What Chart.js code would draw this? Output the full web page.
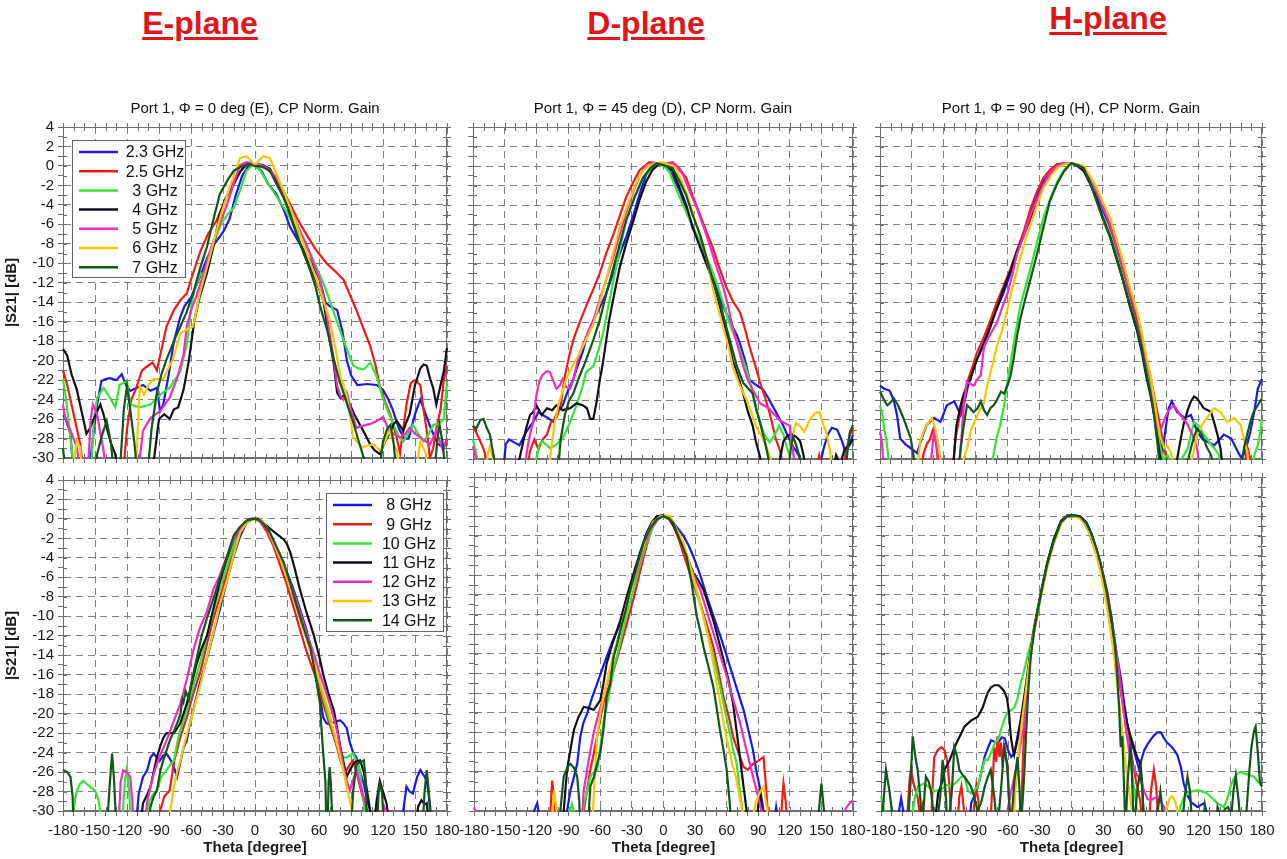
<!DOCTYPE html>
<html>
<head>
<meta charset="utf-8">
<script src="https://cdn.jsdelivr.net/npm/chart.js@4.4.0/dist/chart.umd.min.js"></script>
<style>
  body { margin: 0; width: 1287px; height: 859px; overflow: hidden; background: #fff; position: relative;
         font-family: "Liberation Sans", Arial, sans-serif; }
  .plane { position: absolute; color: #e0161b; font-weight: bold; font-size: 32px; white-space: nowrap;
           text-decoration: underline; text-decoration-thickness: 3px; text-underline-offset: 3px;
           transform: translateX(-50%); }
  canvas { position: absolute; }
</style>
</head>
<body>

<div class="plane" style="left:200px; top:5px">E-plane</div>
<div class="plane" style="left:646px; top:5px">D-plane</div>
<div class="plane" style="left:1108px; top:0px">H-plane</div>

<canvas id="p1" width="467" height="374" style="left:0px; top:97px"></canvas>
<canvas id="p2" width="420" height="374" style="left:453px; top:97px"></canvas>
<canvas id="p3" width="422" height="374" style="left:860px; top:97px"></canvas>
<canvas id="p4" width="467" height="392" style="left:0px; top:467px"></canvas>
<canvas id="p5" width="420" height="392" style="left:453px; top:467px"></canvas>
<canvas id="p6" width="422" height="392" style="left:860px; top:467px"></canvas>

<script>
// ---- labels ----
const freqLow = ["2.3 GHz", "2.5 GHz", "3 GHz", "4 GHz", "5 GHz", "6 GHz", "7 GHz"];
const freqHigh = ["8 GHz", "9 GHz", "10 GHz", "11 GHz", "12 GHz", "13 GHz", "14 GHz"];
const thetaTickLabels = [-180, -150, -120, -90, -60, -30, 0, 30, 60, 90, 120, 150, 180];
const gainTickLabels = [4, 2, 0, -2, -4, -6, -8, -10, -12, -14, -16, -18, -20, -22, -24, -26, -28, -30];
const panelTitles = [
    "Port 1, \u03A6 = 0 deg (E), CP Norm. Gain",
    "Port 1, \u03A6 = 45 deg (D), CP Norm. Gain",
    "Port 1, \u03A6 = 90 deg (H), CP Norm. Gain"
];

// ---- E-plane, 2.3 .. 7 GHz  [theta, dB] ----
const e23 = [[-180,-25.6],[-178,-25.8],[-173,-27.5],[-170,-32],[-156,-32],[-153,-28.9],[-148,-24.5],[-144,-22.1],[-140,-21.9],[-136,-21.8],[-130,-22],[-125,-21.4],[-121,-22.5],[-117,-23.1],[-111,-22.8],[-105,-22.5],[-98,-23.1],[-92,-22.8],[-89,-25.2],[-86,-24.5],[-81,-21.5],[-76,-18],[-70,-15.5],[-66,-14.4],[-60,-13.5],[-52,-11.5],[-45,-9.5],[-38,-8],[-30,-6.8],[-24,-5.5],[-18,-3],[-12,-1],[-6,0],[0,0],[6,-0.5],[12,-1.8],[20,-2.9],[27,-4.5],[33,-6.3],[42,-8],[52,-9.7],[61,-11.8],[66,-14],[70,-14.4],[77,-14.8],[82,-17],[86,-19.9],[90,-21.5],[96,-22.5],[105,-22.4],[114,-22.5],[120,-23],[125,-24],[129,-25],[135,-27],[140,-28],[144,-28],[150,-25.5],[155,-24],[160,-25.5],[165,-27],[171,-28.5],[177,-29],[180,-28]];
const e25 = [[-180,-21],[-176,-22.5],[-172,-24.5],[-168,-26.5],[-164,-28.5],[-160,-32],[-124,-32],[-120,-27],[-116,-24],[-112,-23],[-106,-21],[-100,-20.5],[-96,-20.2],[-92,-21],[-88,-19],[-83,-16.5],[-76,-14.8],[-70,-13.8],[-64,-13.1],[-58,-11],[-51,-8.7],[-44,-7],[-36,-5.6],[-28,-3.5],[-20,-1.6],[-12,-0.3],[-6,0.2],[0,0],[8,0],[17,-0.9],[25,-2.3],[33,-3.9],[40,-5.5],[48,-7],[57,-8.6],[67,-10],[75,-10.8],[83,-11.7],[90,-13.5],[95,-14.8],[102,-16.8],[108,-18.5],[113,-20.5],[117,-22.6],[122,-24.2],[127,-25.6],[133,-28],[136,-29.5],[139,-27],[142,-24.5],[146,-22.3],[150,-22],[155,-22.5],[158,-25],[161,-27.2],[164,-30],[167,-29],[170,-27],[174,-25],[177,-22],[180,-20.5]];
const e3 = [[-180,-21.9],[-177,-24],[-174,-27],[-171,-30],[-168,-32],[-154,-32],[-151,-26],[-148,-23.8],[-142,-22.8],[-136,-23.8],[-131,-24.8],[-127,-22.5],[-120,-22.1],[-117,-24.5],[-108,-24.8],[-98,-24.5],[-89,-23.5],[-80,-22.8],[-70,-21.1],[-64,-18.4],[-59,-13.8],[-56,-12.5],[-51,-11],[-48,-11.5],[-44,-9.5],[-39,-8],[-32,-6],[-26,-5],[-20,-4.3],[-14,-2.5],[-8,-0.5],[-3,0],[0,0],[5,-0.5],[11,-1.6],[17,-2.6],[23,-3.6],[30,-4.8],[36,-6],[44,-7.5],[52,-9],[58,-10.5],[64,-12],[69,-13.5],[74,-15.1],[80,-17],[86,-18.8],[92,-20.5],[97,-20.8],[102,-20.9],[108,-20.2],[114,-21.6],[120,-23.9],[125,-25.3],[130,-26.6],[135,-27.8],[139,-28.3],[144,-27.4],[148,-26.6],[153,-27.5],[158,-28.3],[163,-27.5],[167,-26.6],[172,-26.5],[177,-26],[180,-22.2]];
const e4 = [[-180,-18.8],[-176,-19.5],[-172,-21.4],[-167,-23],[-164,-24.5],[-161,-26],[-158,-27.5],[-155,-27],[-152,-26.2],[-148,-25.2],[-145,-24.5],[-142,-25.5],[-139,-26.9],[-135,-28.5],[-131,-29.6],[-128,-32],[-97,-32],[-94,-29.5],[-90,-26],[-85,-25.5],[-80,-26],[-76,-25],[-72,-24.8],[-67,-23],[-62,-20],[-57,-16],[-52,-13.5],[-45,-11],[-39,-8.3],[-33,-5],[-27,-3.2],[-20,-1.9],[-14,-0.6],[-8,0.2],[-3,0.2],[0,0],[7,0.1],[14,-0.3],[20,-1.5],[27,-3],[33,-5],[39,-7],[45,-8.7],[52,-10.4],[58,-12],[64,-13.8],[68,-16.5],[71,-18.5],[74,-20.5],[77,-23.3],[80,-23.8],[83,-23.6],[86,-24],[89,-24.5],[93,-25.5],[98,-26.5],[103,-27.5],[108,-28.6],[112,-29.2],[117,-29.6],[121,-28.5],[126,-27.5],[130,-26.5],[133,-26.2],[136,-26.7],[139,-27.2],[142,-26.3],[145,-25.5],[150,-22.5],[155,-20.8],[158,-20.4],[161,-20.5],[164,-21.8],[167,-22.8],[170,-24.5],[173,-23],[177,-21.1],[180,-18.7]];
const e5 = [[-180,-24.5],[-178,-25.8],[-173,-27.2],[-167,-28.9],[-163,-32],[-157,-32],[-154,-26],[-152,-24.5],[-148,-25.5],[-145,-27.5],[-142,-29.2],[-139,-32],[-110,-32],[-105,-27.2],[-98,-25.9],[-89,-25.2],[-80,-23.8],[-73,-21.8],[-67,-19.4],[-64,-16.5],[-59,-14.5],[-55,-13.4],[-48,-11],[-42,-8.7],[-34,-6.2],[-26,-3.9],[-20,-1.8],[-14,0.1],[-8,0.4],[-3,0.3],[0,0],[4,0.2],[8,0],[14,-0.4],[20,-1.2],[27,-2.8],[33,-4.3],[40,-6.2],[48,-8],[55,-10],[61,-11.8],[66,-14.5],[70,-17.2],[74,-20],[77,-22.6],[80,-23.6],[83,-24],[86,-23.3],[90,-25],[95,-26.9],[101,-26.7],[108,-26.5],[114,-26.2],[120,-25.8],[126,-27.2],[131,-27.6],[136,-27.9],[141,-27.5],[145,-26.9],[150,-27.5],[155,-27.9],[160,-28.3],[164,-28.6],[170,-27.2],[176,-29.2],[180,-28]];
const e6 = [[-172,-32],[-167,-28.3],[-164,-28.9],[-161,-32],[-112,-32],[-108,-22.6],[-104,-23.5],[-100,-22.5],[-95,-21.9],[-86,-21.9],[-80,-20.5],[-77,-19.9],[-70,-17.2],[-64,-16.8],[-58,-16.5],[-52,-13.2],[-45,-10.4],[-38,-7.5],[-32,-5],[-26,-3],[-20,-1],[-14,0.8],[-8,1],[-4,0.6],[0,0],[4,0.6],[8,1],[14,0.8],[20,-0.8],[27,-2.6],[34,-4.6],[42,-7],[50,-9.4],[58,-11.8],[64,-13.8],[70,-15.8],[75,-18.5],[80,-21.6],[86,-23.6],[89,-25.5],[92,-27.9],[97,-28.5],[101,-28.9],[106,-28.7],[111,-28.6],[117,-29.2],[121,-28.5],[126,-27.2],[130,-28.5],[133,-29.2],[136,-32],[150,-32],[155,-28.3],[160,-29.5],[163,-32]];
const e7 = [[-180,-29],[-177,-32],[-150,-32],[-148,-29.6],[-143,-27.5],[-139,-26.2],[-135,-28.5],[-132,-32],[-127,-32],[-123,-25],[-120,-22.6],[-117,-25],[-113,-28.5],[-110,-32],[-101,-32],[-97,-27],[-92,-23.3],[-88,-21.5],[-83,-19.9],[-76,-18],[-70,-16.5],[-64,-15],[-58,-13.1],[-52,-10.7],[-45,-8.3],[-39,-5.5],[-33,-2.9],[-26,-1.5],[-20,-0.5],[-12,0],[-6,0.2],[0,0],[7,-0.1],[14,-0.5],[20,-1.8],[27,-3.3],[33,-5],[39,-7],[45,-8.8],[52,-10.8],[57,-12.5],[61,-14.4],[68,-17],[74,-19.9],[79,-22],[83,-23.3],[88,-25],[92,-26.3],[97,-28.2],[102,-30],[106,-32],[116,-32],[120,-28.3],[124,-27],[127,-26.6],[130,-28.5],[133,-32],[168,-32],[171,-28],[173,-26.6],[176,-28.5],[179,-32]];

// ---- D-plane, 2.3 .. 7 GHz ----
const d23 = [[-180,-32],[-152,-32],[-149,-28.5],[-146,-28],[-141,-28.3],[-136,-28.6],[-130,-27.3],[-123,-26.2],[-118,-25.2],[-114,-25.5],[-109,-25.8],[-104,-26.2],[-100,-25.2],[-95,-24.5],[-90,-23],[-85,-21.8],[-80,-20.2],[-76,-19],[-71,-17],[-66,-15.8],[-60,-14.5],[-54,-13.1],[-48,-11.2],[-41,-9],[-34,-7],[-28,-5],[-22,-2.8],[-16,-0.9],[-10,0],[-6,0.3],[0,0.2],[3,0.1],[9,-1],[16,-2.6],[22,-4.4],[28,-6.3],[35,-8],[41,-9.7],[49,-12],[57,-14.4],[62,-15.5],[66,-16.5],[70,-17.3],[73,-18.2],[78,-20],[82,-21.9],[88,-22.4],[95,-22.9],[100,-23.8],[104,-24.6],[109,-25.6],[114,-26.6],[118,-27.6],[123,-28.7],[128,-29.5],[134,-31],[148,-31],[152,-29],[156,-27.5],[160,-26.8],[165,-27],[169,-28],[173,-29.3],[177,-28.5],[180,-27.5]];
const d25 = [[-180,-26.6],[-176,-27.5],[-171,-28.7],[-167,-30],[-164,-32],[-130,-32],[-126,-29.2],[-122,-28],[-118,-29],[-114,-28],[-110,-27.5],[-106,-26.2],[-101,-25.8],[-97,-24.5],[-93,-21.5],[-89,-19.5],[-85,-17.8],[-79,-16],[-73,-14.4],[-66,-12.6],[-60,-11],[-54,-9],[-47,-7],[-41,-5.1],[-35,-3.2],[-28,-1.6],[-22,-0.4],[-13,0.4],[-6,0.3],[0,0.2],[9,0.4],[15,-0.2],[22,-1.2],[28,-3],[35,-5],[41,-6.7],[47,-8.3],[53,-10.3],[60,-12.4],[66,-13.8],[73,-15],[78,-16.8],[82,-18.5],[87,-20.3],[92,-22.2],[97,-23.8],[101,-25.3],[107,-28],[111,-29.2],[114,-31],[145,-31],[148,-29.6],[151,-31],[170,-31],[174,-29],[177,-27.5],[180,-26.9]];
const d3 = [[-180,-28],[-176,-30],[-172,-32],[-123,-32],[-120,-30],[-117,-28.5],[-114,-28.2],[-107,-28.9],[-101,-28.5],[-95,-27.9],[-88,-26.2],[-82,-24.5],[-76,-22.5],[-73,-21.1],[-66,-20.5],[-61,-18.8],[-57,-17.2],[-52,-14.5],[-47,-11.7],[-41,-8.6],[-35,-5.6],[-27,-3.2],[-19,-1.2],[-12,-0.3],[-6,0.1],[0,0.1],[6,-0.6],[12,-2.2],[19,-4],[27,-5.9],[35,-7.7],[43,-9.8],[51,-12],[57,-14],[63,-16.1],[70,-18],[76,-19.9],[81,-21.5],[85,-23.3],[88,-24.6],[92,-26.3],[96,-27.5],[101,-28.3],[106,-27.5],[110,-26.6],[114,-27.5],[117,-28.7],[121,-30],[124,-32]];
const d4 = [[-140,-32],[-136,-30],[-130,-27],[-126,-25.5],[-123,-25.2],[-120,-24.5],[-115,-25.5],[-110,-24.8],[-105,-25],[-101,-24.5],[-95,-25],[-88,-24.8],[-82,-24.3],[-76,-24.5],[-72,-24.8],[-69,-25.9],[-66,-25.9],[-63,-24.2],[-60,-22],[-57,-20.2],[-54,-18],[-51,-15.8],[-46,-13],[-41,-10.4],[-35,-8],[-28,-5.6],[-22,-3.4],[-16,-1.6],[-10,-0.4],[-3,0.3],[0,0.2],[4,0.1],[9,-0.5],[15,-2],[22,-4],[28,-6.2],[35,-8.3],[41,-10],[47,-11.7],[52,-13.6],[57,-15.8],[62,-17.8],[66,-19.9],[71,-21.5],[76,-23.3],[80,-25],[85,-26.6],[88,-28.2],[92,-29.8],[95,-32],[108,-32],[111,-30],[114,-28.2],[118,-27.6],[123,-27.5],[127,-27.8],[130,-28.2],[133,-29.5],[136,-32],[160,-32],[164,-29.6],[168,-30.5],[172,-29],[177,-28.5],[180,-28]];
const d5 = [[-180,-28.7],[-176,-30.5],[-173,-32],[-132,-32],[-129,-29.2],[-126,-27.5],[-123,-26.2],[-120,-23.5],[-117,-22],[-114,-21.4],[-110,-21],[-107,-21.1],[-104,-22],[-101,-22.8],[-98,-22.5],[-95,-21.8],[-92,-22.6],[-88,-22.8],[-85,-21.9],[-82,-20.5],[-79,-19.2],[-73,-17.5],[-66,-15.8],[-60,-13.7],[-54,-11.7],[-47,-9.3],[-41,-7],[-35,-4.8],[-28,-2.6],[-22,-1],[-16,0.1],[-9,0.3],[-3,0.3],[0,0.2],[9,0.3],[14,-0.2],[19,-0.9],[25,-2.5],[32,-4.3],[38,-6.1],[44,-8],[50,-10.1],[57,-12.4],[62,-14.5],[66,-16.5],[71,-18.5],[76,-20.5],[80,-21.8],[85,-22.9],[88,-23.5],[92,-24.3],[97,-24.6],[101,-24.9],[106,-25.5],[110,-26],[115,-26.3],[120,-26.6],[123,-29],[126,-32]];
const d6 = [[-169,-32],[-166,-29.5],[-164,-28.7],[-161,-30],[-158,-32],[-110,-32],[-107,-30],[-103,-26.5],[-99,-24.5],[-95,-23],[-92,-21.9],[-86,-20.5],[-79,-19.2],[-73,-17.8],[-66,-16.2],[-60,-14],[-54,-11.7],[-47,-8.8],[-41,-6.3],[-33,-3.8],[-25,-1.6],[-19,-0.5],[-13,0.1],[-6,0.3],[0,0.4],[6,0.1],[12,-0.2],[18,-1.6],[25,-3.6],[31,-5.8],[38,-8],[43,-10.2],[47,-12.4],[52,-14.5],[57,-16.5],[62,-18.5],[66,-20.5],[72,-22.3],[79,-23.9],[84,-25.3],[88,-26.6],[93,-27.6],[98,-28.7],[102,-30],[105,-32],[118,-32],[122,-28],[126,-26.3],[130,-26.7],[134,-27.2],[139,-26],[144,-25.3],[148,-25.2],[152,-26.5],[155,-27.4],[158,-29],[161,-32]];
const d7 = [[-180,-26.6],[-177,-26.9],[-173,-26],[-170,-25.9],[-167,-26.8],[-164,-27.5],[-160,-30],[-157,-32],[-100,-32],[-97,-28],[-93,-25.5],[-89,-24],[-85,-23.3],[-79,-21.5],[-73,-19.9],[-66,-17.8],[-60,-15.8],[-54,-13.2],[-47,-10.4],[-41,-8],[-35,-5.6],[-27,-3.2],[-19,-1.2],[-12,-0.2],[-6,0.3],[0,0.1],[9,-0.2],[15,-1.4],[22,-3],[28,-5],[35,-7],[41,-9.3],[47,-11.7],[54,-14],[60,-16.5],[65,-18.5],[70,-20.5],[76,-22.2],[81,-22.8],[85,-23.3],[88,-24.8],[92,-26.3],[96,-28],[100,-30],[103,-32],[118,-32],[121,-29],[123,-27.7],[126,-28.5],[130,-30],[133,-32],[172,-32],[175,-29],[177,-27.3],[180,-26.5]];

// ---- H-plane, 2.3 .. 7 GHz ----
const h23 = [[-180,-22.5],[-176,-22.8],[-171,-23],[-167,-24],[-164,-25.5],[-161,-27.9],[-156,-28.5],[-151,-28.9],[-145,-29.4],[-141,-28],[-136,-26.5],[-129,-25.8],[-123,-26.2],[-117,-24.5],[-110,-24.1],[-104,-25.5],[-100,-24],[-95,-21.5],[-89,-19.9],[-82,-18],[-76,-16.1],[-70,-14.6],[-64,-13.1],[-57,-11],[-51,-9],[-44,-6.8],[-38,-4.6],[-32,-3],[-26,-1.6],[-19,-0.6],[-13,0],[-6,0.3],[0,0.3],[6,0],[12,-0.5],[18,-1.5],[24,-2.9],[30,-4.5],[37,-6.3],[43,-8.5],[49,-10.7],[55,-13],[62,-15.8],[67,-18],[72,-20.5],[75,-22.2],[78,-23.9],[81,-26],[84,-28],[86,-29.5],[89,-27],[92,-24.8],[95,-24.1],[100,-25.2],[107,-25.8],[113,-25.5],[119,-27.2],[124,-28],[128,-28.2],[135,-28.6],[140,-28],[144,-27.5],[151,-27.9],[157,-29.2],[160,-29.8],[163,-29.5],[166,-28.5],[169,-27.2],[173,-25],[176,-22.8],[180,-21.8]];
const h25 = [[-142,-32],[-139,-29.5],[-136,-28.5],[-133,-28],[-130,-27],[-127,-28.5],[-124,-32],[-112,-32],[-109,-28],[-104,-25],[-98,-22.2],[-93,-20.6],[-89,-19.2],[-82,-17.5],[-76,-15.8],[-70,-14],[-64,-12.4],[-57,-10.5],[-51,-8.7],[-44,-6.5],[-38,-4.3],[-32,-2.6],[-26,-1.2],[-20,-0.4],[-13,0.2],[-4,0.3],[3,0.2],[9,0],[15,-0.8],[21,-1.9],[28,-3.5],[34,-5.3],[40,-7.4],[46,-9.7],[52,-12],[59,-14.4],[65,-17],[71,-19.9],[75,-21.6],[78,-23.3],[81,-25],[84,-26.6],[87,-28.5],[90,-30],[93,-32],[162,-32],[166,-28.7],[169,-30],[172,-32]];
const h3 = [[-180,-24.5],[-178,-25.3],[-176,-27],[-174,-28],[-172,-30],[-169,-32],[-76,-32],[-73,-29.5],[-70,-27.8],[-67,-26.6],[-63,-24.5],[-60,-22.2],[-57,-20.2],[-54,-18.2],[-51,-16.3],[-48,-14.4],[-43,-12.4],[-38,-10.4],[-32,-7.8],[-26,-5.3],[-19,-3.2],[-13,-1.6],[-7,-0.5],[-1,0.3],[6,0.1],[12,-0.2],[18,-1.6],[24,-3.3],[30,-5.1],[37,-7],[43,-9.1],[49,-11.4],[55,-13.9],[62,-16.5],[67,-18.8],[71,-20.9],[75,-22.8],[78,-24.6],[81,-26.6],[84,-28.7],[87,-30],[91,-29.6],[95,-30.5],[100,-31],[104,-30],[107,-29.5],[110,-28.9],[113,-27.5],[116,-26.2],[119,-26.5],[122,-26.9],[125,-27.5],[128,-27.9],[131,-28.4],[135,-28.9],[139,-29.5],[143,-31],[170,-31],[173,-29.5],[176,-28.6],[178,-27.5],[180,-26]];
const h4 = [[-112,-32],[-108,-26.6],[-104,-24.5],[-101,-23.3],[-95,-21.9],[-89,-19.9],[-82,-18.2],[-76,-16.5],[-70,-14.6],[-64,-12.7],[-57,-10.7],[-51,-8.7],[-44,-7],[-38,-5.3],[-32,-3.6],[-26,-1.9],[-19,-0.8],[-13,0],[-6,0.3],[0,0.3],[6,0.1],[12,-0.5],[18,-1.8],[24,-3.3],[30,-5.3],[37,-7.3],[43,-9.5],[49,-11.7],[55,-14.2],[62,-16.8],[67,-19.2],[71,-21.6],[75,-23.5],[78,-25.3],[81,-27.5],[84,-29.7],[87,-32],[97,-32],[100,-30],[103,-28.2],[106,-26.5],[110,-25],[113,-24.1],[116,-23.6],[119,-23.8],[122,-24.3],[125,-24.8],[129,-25],[132,-25.2],[135,-26.3],[138,-27.5],[141,-29],[144,-32]];
const h5 = [[-180,-27.2],[-178,-28.5],[-176,-32],[-133,-32],[-131,-29],[-129,-27.2],[-126,-29],[-123,-32],[-106,-32],[-104,-28.9],[-101,-24.5],[-98,-22.1],[-95,-22.3],[-92,-22.5],[-88,-21.8],[-85,-21.4],[-82,-18.5],[-76,-17.2],[-70,-16.1],[-65,-14.5],[-60,-13.1],[-55,-11],[-51,-9],[-44,-7],[-38,-5],[-32,-3.4],[-26,-1.9],[-19,-0.6],[-13,0],[-6,0.3],[0,0.3],[6,0.1],[12,-0.2],[18,-1.2],[24,-2.6],[30,-4.2],[37,-6],[43,-8.2],[49,-10.4],[55,-12.7],[62,-15.1],[67,-17.5],[71,-19.9],[75,-21.8],[78,-23.9],[81,-26.6],[84,-27.2],[88,-26],[91,-25.2],[94,-24.8],[97,-24.5],[100,-25],[103,-25.5],[107,-26],[110,-26.5],[113,-27.2],[116,-27.9],[119,-29],[122,-32]];
const h6 = [[-146,-32],[-142,-28.2],[-139,-27.2],[-136,-26.5],[-131,-25.8],[-128,-26.8],[-126,-27.9],[-123,-30],[-120,-32],[-104,-32],[-101,-30],[-98,-28.9],[-94,-27],[-90,-26],[-86,-25],[-82,-24.3],[-79,-22.5],[-76,-21.2],[-73,-19.9],[-70,-18.5],[-64,-16.5],[-58,-13.7],[-51,-10.7],[-45,-8.3],[-38,-6],[-32,-4],[-26,-2.3],[-19,-1],[-13,-0.2],[-6,0.2],[0,0.3],[6,0.2],[12,0],[18,-1],[24,-2.2],[30,-3.7],[37,-5.3],[43,-7.5],[49,-9.7],[55,-12.2],[62,-14.8],[67,-17.2],[71,-19.5],[75,-21.5],[78,-23.6],[81,-25.8],[84,-27.7],[88,-28.9],[91,-28.7],[94,-29.3],[97,-30.5],[112,-31],[116,-29],[119,-27.5],[123,-26.6],[128,-25.8],[132,-25.2],[135,-24.8],[138,-25],[141,-25.2],[144,-25.7],[147,-26.2],[151,-26],[154,-25.8],[157,-26.2],[160,-26.5],[163,-28],[166,-29.2],[169,-32]];
const h7 = [[-180,-23.1],[-176,-24],[-173,-24.5],[-170,-24.2],[-167,-23.8],[-163,-24.5],[-158,-25.8],[-154,-27],[-151,-27.9],[-148,-30],[-146,-32],[-107,-32],[-104,-28.9],[-101,-26.5],[-98,-24.5],[-95,-24.8],[-92,-25.2],[-88,-24.8],[-85,-24.1],[-82,-25],[-79,-25.5],[-76,-24.8],[-73,-24.5],[-70,-24],[-66,-23.1],[-63,-23.3],[-60,-22.5],[-57,-21.5],[-54,-19.7],[-51,-17.5],[-48,-15.8],[-45,-14.4],[-38,-11.5],[-32,-9],[-26,-6.3],[-20,-3.6],[-13,-1.8],[-7,-0.6],[0,0.3],[6,0.1],[12,-0.2],[18,-1.7],[24,-3.6],[30,-5.4],[37,-7.3],[43,-9.5],[49,-11.7],[55,-14],[62,-16.5],[67,-18.8],[71,-21.2],[75,-23.3],[78,-25.3],[81,-28],[83,-30],[85,-32],[108,-32],[111,-29.8],[113,-28.9],[116,-27.7],[119,-26.9],[122,-27.3],[125,-27.9],[128,-28.8],[132,-29.6],[135,-31],[160,-31],[163,-28.9],[166,-27.5],[169,-26.2],[172,-25.2],[176,-24.5],[180,-23.8]];

// ---- E-plane, 8 .. 14 GHz ----
const e8 = [[-112,-32],[-109,-28.2],[-105,-26.5],[-101,-25.8],[-98,-24.5],[-95,-24.1],[-92,-24.5],[-89,-24.8],[-86,-24.3],[-83,-24.1],[-80,-24.6],[-77,-25.2],[-73,-26.5],[-70,-25],[-67,-23.5],[-64,-22.8],[-61,-21],[-58,-19.7],[-52,-17],[-45,-14.3],[-39,-11.8],[-33,-9.3],[-26,-6.2],[-20,-3.8],[-14,-1.8],[-8,-0.4],[-3,0],[2,0],[7,-0.4],[11,-1],[17,-2.3],[23,-3.8],[30,-5.5],[36,-7.2],[42,-9.2],[48,-11.3],[53,-13.5],[58,-16.3],[61,-18.3],[64,-20.4],[67,-21],[70,-21.1],[75,-20.8],[80,-20.7],[83,-21],[86,-21.5],[89,-23],[92,-24],[95,-24.5],[98,-25.8],[102,-27.2],[105,-28.8],[108,-30],[111,-32],[136,-32],[139,-30],[142,-27.5],[145,-28],[148,-28.2],[152,-26.5],[155,-25.8],[158,-26.3],[161,-26.9],[164,-29.3],[166,-32]];
const e9 = [[-92,-32],[-89,-30],[-85,-28.5],[-80,-27.9],[-76,-25],[-70,-22.4],[-64,-20.4],[-58,-18],[-51,-15.6],[-45,-12.8],[-39,-10.2],[-32,-7.8],[-26,-5.5],[-20,-3.1],[-14,-1],[-9,-0.3],[-5,0],[0,0],[5,-0.3],[11,-1.3],[17,-2.7],[23,-4.6],[30,-6.8],[36,-9],[42,-11.3],[48,-13.5],[55,-15.7],[60,-17.4],[64,-19],[69,-20.8],[74,-22.4],[77,-23.5],[80,-24.8],[83,-25.6],[86,-25.8],[89,-25.2],[92,-24.8],[95,-26],[98.5,-27.5],[102,-29],[105,-30],[108,-32],[112,-31],[114,-29.3],[117,-30.5],[120,-32]];
const e10 = [[-172,-32],[-169,-29],[-167,-27.9],[-164,-27.2],[-161,-26.9],[-158,-27.2],[-155,-27.5],[-150,-27.9],[-147,-28.8],[-145,-30],[-142,-32],[-125,-32],[-122,-27],[-120,-25.5],[-118,-28],[-116,-32],[-103,-32],[-99,-29],[-95,-28.2],[-92,-27.9],[-88,-26.5],[-83,-25.8],[-79,-25.2],[-76,-24.8],[-72,-22.5],[-68,-21],[-64,-19.7],[-58,-17.2],[-51,-14.6],[-45,-12],[-39,-9.5],[-33,-7.2],[-26,-4.8],[-20,-2.8],[-14,-1],[-6,-0.2],[0,0],[4,0],[9,-0.6],[14,-1.4],[20,-3],[27,-4.8],[33,-6.8],[39,-8.9],[45,-11],[52,-13.3],[56,-15.2],[61,-17],[65,-18.8],[70,-20.7],[74,-22],[77,-23.1],[80,-24],[83,-24.5],[86,-24.5],[89,-24.3],[92,-24.1],[95,-24.9],[98.5,-25.8],[100,-27.5],[102,-29.2],[104,-32]];
const e11 = [[-108,-32],[-105,-29.2],[-101,-28.3],[-98,-27.5],[-95,-26],[-92,-24.5],[-89,-23.4],[-86,-22.5],[-83,-22],[-79,-22],[-76,-22],[-73,-21.5],[-70,-21],[-67,-20],[-64,-19],[-60,-17.2],[-55,-15],[-50,-13.3],[-45,-12],[-39,-9.2],[-33,-6.5],[-27,-4.3],[-20,-2.1],[-14,-1.1],[-8,-0.2],[-3,0],[2,0],[8,-0.4],[14,-1],[20,-1.5],[27,-2.1],[30,-2.6],[33,-3.4],[37,-5],[42,-7.2],[48,-9.5],[55,-11.9],[60,-14],[64,-16],[69,-18],[74,-19.7],[77,-21.5],[80,-23.4],[83,-25],[86,-26.5],[89,-25.8],[92,-25.2],[95,-24.9],[98.5,-24.8],[102,-26],[105,-27.9],[108,-30],[111,-32],[114,-29],[117,-26.9],[120,-28],[123.5,-29.3],[126,-32],[150,-32],[153,-29.5],[156,-28.9],[159,-29.3],[161,-29.2],[164,-32]];
const e12 = [[-128,-32],[-126,-27],[-123.5,-25.8],[-120,-26],[-117,-26.5],[-115,-29],[-114,-32],[-104,-32],[-101,-29],[-98,-27.5],[-95,-26.2],[-92,-25.2],[-88,-24],[-83,-22.8],[-77,-21],[-70,-19],[-64,-16.5],[-58,-13.6],[-52,-11.3],[-45,-9.5],[-39,-7.2],[-33,-5.8],[-27,-4],[-20,-2.1],[-14,-1],[-8,-0.4],[-3,0],[2,0],[6,-0.4],[11,-1],[17,-2.5],[23,-4.1],[30,-5.8],[36,-7.5],[42,-9.5],[48,-11.6],[55,-13.8],[61,-16],[66,-17.6],[70,-19],[74,-20.5],[77,-21.8],[80,-23.6],[83,-25.5],[86,-26.9],[89,-27.9],[92,-26.8],[95.4,-25.8],[98,-27],[102,-28.6],[105,-30],[108,-32],[118,-32],[121,-29.5],[124,-30.5],[127,-32]];
const e13 = [[-83,-32],[-79.6,-30],[-76,-27.5],[-73,-26],[-70,-24.8],[-66,-23],[-61,-21],[-56,-19],[-51,-17],[-45,-14.2],[-39,-11.6],[-33,-8.8],[-26,-6.2],[-20,-3.7],[-14,-1.4],[-8,-0.4],[-1.5,0],[4,0],[8,-0.3],[14,-1.5],[20,-3.1],[27,-5.1],[33,-7.2],[39,-9.2],[45,-11.3],[52,-13.5],[58,-15.7],[64,-17.9],[70,-20.1],[75,-22.3],[80,-24.5],[83,-26],[86,-27.5],[89,-29],[92,-30.5],[95,-32]];
const e14 = [[-180,-25.8],[-176,-26],[-173,-26.5],[-171,-28.5],[-170,-32],[-139,-32],[-136,-27],[-134,-24.1],[-132,-27],[-130,-32],[-101,-32],[-98,-29.6],[-95,-28.5],[-92,-27.9],[-89,-26],[-86,-24.8],[-83,-23.8],[-80,-22.8],[-76,-21.8],[-73,-21],[-70,-20.1],[-68,-18.5],[-67,-18.8],[-65,-17.7],[-62,-18.5],[-60,-17],[-58,-16],[-54,-14],[-50,-12],[-45,-10.2],[-39,-8.2],[-33,-6.1],[-26,-3.8],[-20,-1.7],[-14,-0.8],[-8,-0.2],[-2,0],[3,0],[8,-0.5],[14,-1.4],[20,-2.8],[27,-4.5],[33,-6.6],[39,-8.9],[45,-11],[52,-13.3],[55,-15],[58,-17],[61,-19],[62,-21],[64,-24.1],[66,-27],[67,-32],[68,-32],[69,-27],[70,-25.5],[71,-27],[73,-32],[90,-32],[92,-28],[95,-25.2],[99,-25],[102,-24.8],[104,-27],[105,-32],[114,-32],[116,-28],[117,-27.2],[119,-28],[121,-32],[157,-32],[159,-28],[161,-25.8],[163,-28],[165,-32]];

// ---- D-plane, 8 .. 14 GHz ----
const d8 = [[-126,-32],[-123,-30],[-120,-29.2],[-118,-30.5],[-116,-32],[-95,-32],[-91.6,-30],[-88.4,-27.9],[-85,-26.5],[-82,-25.2],[-79,-22.4],[-76,-21],[-72.6,-20.1],[-68,-18.5],[-63,-17],[-58,-15.5],[-54,-14.3],[-48,-12.6],[-41,-10.9],[-35,-8.5],[-28.4,-6.1],[-22,-4],[-16,-2],[-11,-0.8],[-6.3,0],[0,0.1],[6.3,-0.3],[12,-1],[19,-2],[24,-3],[28.4,-4.1],[35,-6],[41,-8.1],[47,-10],[54,-12.2],[60,-14.2],[66,-16.3],[71,-18],[76,-19.7],[80,-21.5],[85,-23.8],[88,-25.8],[92,-27.9],[95,-30],[97,-32],[104,-32],[107,-29.6],[109,-31],[111,-32]];
const d9 = [[-110,-32],[-107.4,-30],[-105.8,-26.9],[-104,-28.5],[-103,-32],[-78,-32],[-75.8,-30],[-72,-27.5],[-69.5,-25.8],[-66,-24],[-63,-22.4],[-60,-20.6],[-57,-19],[-52,-17.4],[-47.4,-15.7],[-41,-13.3],[-34.8,-10.9],[-28,-8.2],[-22,-5.5],[-16,-3],[-9.5,-0.7],[-4,-0.1],[0,0],[5,-0.3],[9.5,-1],[15,-2.5],[22,-4.8],[28,-6.8],[35,-8.9],[41,-11],[47.4,-13.3],[52,-15.7],[57,-18.4],[62,-20.4],[66,-22.4],[71,-24],[76,-25.5],[80,-25.8],[85,-25.2],[90,-24.9],[95,-24.5],[97,-27],[99,-30],[101,-32],[111,-32],[113,-28.5],[114,-27.2],[116,-29],[118,-32]];
const d10 = [[-92,-32],[-89,-30],[-87,-29.3],[-85,-30],[-83,-32],[-78,-32],[-75.8,-29.3],[-72,-27.8],[-69.5,-26.5],[-66,-26],[-63,-25.8],[-60,-23.5],[-57,-21],[-52,-18.3],[-47.4,-15.6],[-41,-12.8],[-34.8,-9.9],[-28,-7.3],[-22,-4.8],[-16,-2.7],[-9.5,-1],[-4,-0.1],[0,0],[5,-0.2],[9.5,-0.7],[15,-2],[22,-4.1],[28,-6.3],[35,-8.9],[41,-11.6],[47.4,-14.3],[52,-16.5],[57,-19],[60,-20.6],[63,-22.1],[66,-23.7],[69.5,-25.2],[72,-27.5],[75,-30],[77,-32]];
const d11 = [[-97,-32],[-94.8,-30],[-91.6,-25.8],[-88,-23.5],[-85,-21.7],[-81,-20.5],[-75.8,-19.4],[-71,-19.5],[-66.3,-19.7],[-63,-19.2],[-60,-18.7],[-57,-17],[-54,-15],[-48,-12.8],[-41,-10.6],[-35,-8.2],[-28.4,-5.8],[-22,-3.6],[-16,-1.7],[-11,-0.6],[-6.3,0],[0,0.1],[6.3,-0.3],[12,-1.5],[19,-3.1],[24,-4.6],[28.4,-5.8],[33,-6.5],[38,-7.5],[42,-8.8],[47.4,-10.6],[52,-12.5],[57,-14.6],[62,-16.8],[66,-19],[69,-21.5],[72.6,-24.5],[76,-27.5],[79,-30],[81,-32],[88,-32],[90,-29.5],[91.6,-28.2],[93,-29.5],[95,-32]];
const d12 = [[-180,-29.6],[-177,-30.5],[-175,-32],[-80,-32],[-77,-30],[-75.8,-27.9],[-71,-24.8],[-66.3,-22],[-62,-20.2],[-57,-18.4],[-52,-16.3],[-47.4,-14.3],[-43,-12.5],[-38,-10.2],[-32,-7.8],[-25,-5.5],[-19,-3.3],[-12.6,-1.4],[-6,-0.4],[-1.6,0],[4,-0.1],[9.5,-0.7],[15,-2.2],[22,-4.1],[28,-5.8],[35,-7.5],[41,-9.6],[47.4,-11.9],[54,-14.2],[60,-16.3],[66,-18.6],[72.6,-21],[77,-23],[82,-25.2],[85,-26.5],[88.4,-27.9],[92,-29.5],[95,-30.5],[97,-32],[170,-32],[172,-30],[174,-29.6],[177,-29.2],[180,-28.9]];
const d13 = [[-107,-32],[-105,-29.5],[-104,-27.9],[-102,-29.5],[-101,-32],[-68,-32],[-66,-28],[-63,-22.4],[-60,-20],[-57,-18.5],[-54,-17],[-48,-14.2],[-41,-11.6],[-35,-9],[-28.4,-6.5],[-22,-4.1],[-16,-2],[-10,-0.6],[-3,0],[3,0.1],[6.3,0],[12,-1.2],[19,-2.7],[25,-5],[31.6,-7.5],[36,-9.5],[41,-11.6],[46,-14.2],[50.5,-17],[54,-19],[57,-21],[60,-22.6],[63,-24.1],[66,-25.5],[69.5,-26.9],[73,-29],[76,-30.5],[78,-32],[84,-32],[86,-30],[88.4,-28.9],[92,-28],[95,-27.5],[98,-29.5],[101,-32]];
const d14 = [[-100,-32],[-98,-30],[-94.8,-26.5],[-91,-25.5],[-88.4,-25.2],[-85,-25.6],[-82,-26.5],[-80,-29],[-79,-32],[-72,-32],[-69.5,-27.5],[-66,-26.5],[-63,-25.2],[-60,-24],[-57,-21.7],[-55,-19.5],[-54,-18.4],[-52,-17.6],[-50.5,-17],[-47.4,-14.3],[-44,-13],[-41,-11.6],[-36,-9.6],[-31.6,-7.5],[-25,-5],[-19,-2.7],[-12,-1.1],[-6.3,-0.3],[0,0],[5,-0.2],[9.5,-0.7],[15,-2.3],[22,-4.1],[27,-7],[31.6,-10.2],[35,-11.7],[38,-13.3],[42,-15],[47.4,-17.4],[50.5,-19.5],[53.7,-21.8],[57,-23.8],[60,-25.8],[63,-29.3],[65,-32],[146,-32],[148,-29.5],[150,-27.2],[152,-29.5],[155,-32]];

// ---- H-plane, 8 .. 14 GHz ----
const h8 = [[-165,-32],[-163,-30],[-161,-28.7],[-159,-30],[-157,-32],[-97,-32],[-94.8,-29.2],[-91,-28.3],[-88.5,-27.5],[-85,-26],[-82.2,-24.5],[-78,-23.3],[-75.9,-22.8],[-72,-23],[-69.6,-23.1],[-66,-22.5],[-63,-22.6],[-60,-23.8],[-57,-24.5],[-54,-24.1],[-51,-22.8],[-47.6,-21.4],[-45,-19.5],[-42,-16.8],[-38.5,-13.6],[-35,-11.6],[-29,-8],[-23,-4.9],[-17,-2.6],[-10,-0.6],[-4,0],[2,0],[8,-0.1],[12,-0.6],[17,-1.7],[21,-3.1],[26,-4.6],[30.6,-6.8],[35,-9.2],[40,-12.3],[43,-14.2],[46.4,-16.3],[49.5,-18.8],[52.6,-21.1],[56,-22.8],[59,-23.8],[62,-25],[64,-25.8],[66,-24.8],[68.7,-23.8],[72,-23.2],[75,-22.7],[78,-22.3],[81,-22],[84.5,-22],[87,-22.5],[90,-23],[94,-23.4],[97,-23.8],[100,-24.3],[103.3,-25.5],[106,-27.2],[109.6,-28.4],[113,-29.1],[119,-29.6],[122,-29.4],[125.3,-29.2],[128,-30.2],[131,-32]];
const h9 = [[-156,-32],[-153,-26.8],[-151.7,-25.8],[-148.6,-27.5],[-145.4,-28.6],[-143,-30.5],[-141,-29.5],[-139,-32],[-133,-32],[-131,-27],[-129.7,-24.5],[-126.5,-23.8],[-123,-23.5],[-120,-23.8],[-117,-25.2],[-115,-28],[-113,-32],[-108,-32],[-106,-28.5],[-104,-27.5],[-102,-29.5],[-100,-32],[-94,-32],[-92,-29.5],[-90,-27.5],[-88,-29],[-86,-32],[-77,-32],[-74,-26],[-73,-23.5],[-71,-25],[-70,-22.4],[-68,-24.5],[-66.8,-23],[-65,-25.5],[-63.7,-23.1],[-62,-24.5],[-60.5,-25.2],[-59,-29],[-57,-32],[-48,-32],[-46,-25],[-44,-20],[-41.5,-16.3],[-38,-13.5],[-35,-11.3],[-29,-7.8],[-23,-4.8],[-17,-2.5],[-10,-0.5],[-4,0],[2,0],[8,0],[14,-0.8],[19,-2],[24,-3.5],[28,-5],[34,-7.8],[38,-10.5],[40,-13],[42,-15.3],[44,-15.8],[46,-17.5],[49,-19.5],[52.6,-21.5],[56,-23.8],[59,-25.8],[62,-27.5],[65,-29],[67,-32],[73,-32],[75,-28],[77.8,-25.8],[80,-27.5],[81,-29.2],[83,-32]];
const h10 = [[-180,-28.5],[-177,-30],[-175,-32],[-152,-32],[-150,-30],[-148,-28.6],[-145,-27.5],[-140,-27.2],[-135.6,-27.5],[-130,-28],[-126,-27.9],[-123,-27.9],[-119,-27.3],[-113.6,-27.5],[-108,-27],[-104,-26.5],[-101,-26.5],[-98,-27.9],[-94.8,-28.2],[-91,-27.8],[-88.5,-27.5],[-85,-26],[-82,-24.8],[-79,-24.8],[-75,-23.8],[-72,-23],[-69.6,-22.8],[-66,-21.5],[-63,-20.5],[-60.5,-20],[-57,-19.7],[-54,-19.5],[-51,-18.5],[-48,-17],[-45,-15.8],[-41.7,-14.3],[-38,-12.8],[-35,-11],[-29,-7.8],[-23,-4.7],[-17,-2.5],[-10,-0.6],[-4,0],[2,0],[8,-0.1],[14,-0.8],[18,-1.8],[23,-3.3],[27.5,-5],[33,-7.8],[38,-10.5],[42,-13.5],[45,-16],[48,-18.5],[51,-21],[54,-23.5],[57,-26],[60,-28.5],[62,-30],[64,-32],[100,-32],[103,-29.5],[106.4,-28.6],[110,-28.2],[114,-28],[119,-27.9],[123,-28],[128,-28.2],[131,-28.5],[134.7,-28.9],[138,-29.2],[144,-29.6],[147,-28.8],[150.4,-27.5],[153,-26.8],[156.7,-26.2],[160,-26],[163,-26.2],[167,-26.3],[172.5,-26.5],[176,-27],[180,-27.5]];
const h11 = [[-130,-32],[-126,-28.2],[-122,-27],[-119.9,-25.8],[-115,-24.8],[-110.5,-23.5],[-106,-22.5],[-101,-21.4],[-95,-20.8],[-88.5,-20.4],[-84,-19.5],[-79.4,-18],[-76,-17.4],[-72.8,-17.2],[-69,-17.2],[-66.8,-17.4],[-63.7,-17.8],[-61,-18.5],[-59,-20],[-57.4,-22.4],[-55,-24],[-54.2,-24.3],[-52,-23],[-51,-22.4],[-48,-20.7],[-44.8,-18.4],[-41,-15.5],[-38.5,-13.6],[-35,-11.2],[-29,-7.8],[-23,-4.8],[-17,-2.4],[-10,-0.5],[-4,0.1],[2,0.1],[8,0],[14,-0.6],[19,-1.8],[24,-3.5],[28,-5.2],[34,-8],[40,-12.3],[43,-14.5],[46.4,-17],[49.5,-19.2],[52.6,-21.1],[55.8,-22.4],[59,-23.5],[62,-24.5],[65.2,-25.2],[67,-27.5],[68.4,-32]];
const h12 = [[-64,-32],[-60,-29.6],[-57,-28],[-54,-26.5],[-50.7,-24.8],[-47,-22.5],[-44.5,-21],[-42,-17.5],[-39,-14.5],[-36,-12],[-30,-8.5],[-24,-5.5],[-17,-2.8],[-10,-0.7],[-4,0],[2,0],[8,-0.2],[14,-0.9],[18,-1.8],[23,-3.3],[27.5,-5],[33,-7.5],[38,-10.5],[42,-13.5],[45,-16],[48,-18.8],[51,-21.3],[54,-23.5],[57,-25.2],[60,-26],[63,-26.5],[65.6,-26.9],[68.7,-28],[72,-28.8],[75,-28.9],[78,-28.7],[81,-28.6],[84,-29],[87.6,-29.6],[90,-31],[92,-32]];
const h13 = [[-55,-32],[-53,-28],[-50,-24],[-47,-21],[-44,-18.5],[-41,-15.8],[-38,-13.5],[-35,-11.6],[-29,-8.3],[-23,-5.2],[-17,-2.8],[-10,-0.8],[-4,0],[2,0],[8,-0.2],[14,-1],[18,-2],[23,-3.8],[27,-5.5],[32,-8.3],[36,-11],[40,-14],[43,-17],[46,-20],[48.5,-22.5],[51,-25],[54,-27.5],[57,-29.8],[59,-32],[88,-32],[90,-29.7],[93,-28.7],[95,-28.5],[98,-29],[101,-30.5],[103,-32]];
const h14 = [[-180,-31],[-178.4,-30],[-175.3,-25.8],[-172,-28],[-170.6,-29.2],[-168,-32],[-155,-32],[-152,-27],[-150.1,-22.4],[-147.5,-24.5],[-145.4,-25.8],[-143,-28.5],[-141,-32],[-139,-28.5],[-137.6,-26.5],[-135,-27],[-132.9,-27.9],[-130,-30.5],[-128,-32],[-124,-28.5],[-121.8,-24.8],[-119,-28],[-117,-32],[-113,-28],[-110.8,-23.5],[-108,-24.5],[-106,-25.8],[-103,-26.3],[-101.4,-26.5],[-98,-27],[-95,-27.5],[-92,-28.5],[-88.8,-30],[-85,-29],[-82,-27.5],[-79,-26.5],[-76.3,-25.8],[-73,-28.5],[-70,-32],[-66,-27],[-63.7,-23.5],[-62,-24.5],[-60.5,-25.8],[-59,-29],[-57.4,-32],[-54,-27],[-51,-24.5],[-49,-28],[-48,-32],[-45,-27],[-43,-22.4],[-41,-18],[-38.5,-14.3],[-35,-11.4],[-29,-8],[-23,-4.9],[-17,-2.6],[-10,-0.6],[-4,0],[2,0.1],[8,0],[14,-0.7],[18,-1.6],[23,-3.1],[27.5,-4.8],[33,-7.5],[38,-10.5],[41,-13],[43.2,-16.3],[45,-19.5],[46.5,-23.5],[48,-22.4],[49.5,-27],[51,-32],[53,-27],[55.8,-23.1],[57,-26],[59,-32],[62,-28],[65.2,-25.8],[67,-28],[69,-32],[80,-32],[82,-29.5],[84,-28],[86,-30],[88,-32],[104,-32],[107,-28.5],[109.6,-26.5],[112,-28],[114.3,-32],[124,-32],[126,-29.5],[128,-31],[131,-32],[136,-32],[138,-29.6],[141,-30.5],[145,-29.8],[148,-29.6],[151,-30.5],[153,-28],[155.2,-26.4],[158,-29],[160,-32],[164,-32],[168,-26],[170,-23.5],[172.5,-21.8],[174,-21.4],[176,-24],[178,-27],[180,-27.5]];

// ---- styles ----
const lineColors = ["#1a1ae6", "#ec1c1c", "#36e436", "#10101c", "#f02cc4", "#f6c800", "#11561a"];
const FONT = '"Liberation Sans", Arial, sans-serif';
const GRID_COLOR = "#808080";
const AXIS_COLOR = "#6e6e6e";

// frame, inner tick marks and panel title
const framePlugin = {
    id: "frame",
    beforeDatasetsDraw(chart, args, opts) {
        const {ctx, chartArea: a, scales} = chart;
        ctx.save();
        ctx.strokeStyle = AXIS_COLOR;
        ctx.lineWidth = 1;
        ctx.beginPath();
        ctx.rect(a.left + 0.5, a.top + 0.5, a.right - a.left - 1, a.bottom - a.top - 1);
        scales.x.ticks.forEach(t => {
            const px = Math.round(scales.x.getPixelForValue(t.value)) + 0.5;
            ctx.moveTo(px, a.top - 4); ctx.lineTo(px, a.top + 4);
            ctx.moveTo(px, a.bottom - 4); ctx.lineTo(px, a.bottom);
        });
        scales.y.ticks.forEach(t => {
            const py = Math.round(scales.y.getPixelForValue(t.value)) + 0.5;
            ctx.moveTo(a.left, py); ctx.lineTo(a.left + 4, py);
            ctx.moveTo(a.right - 4, py); ctx.lineTo(a.right + 4, py);
        });
        ctx.stroke();
        if (opts.title) {
            ctx.fillStyle = "#111";
            ctx.font = "15px " + FONT;
            ctx.textAlign = "center";
            ctx.textBaseline = "middle";
            ctx.fillText(opts.title, (a.left + a.right) / 2, a.top - 18);
        }
        ctx.restore();
    }
};

// boxed legend inside the plot
const legendBoxPlugin = {
    id: "legendBox",
    afterDatasetsDraw(chart, args, opts) {
        if (!opts.show) return;
        const {ctx, chartArea: a} = chart;
        const x = a.left + opts.dx, y = a.top + opts.dy;
        ctx.save();
        ctx.fillStyle = "#fff";
        ctx.fillRect(x, y, opts.w, opts.h);
        ctx.strokeStyle = "#666";
        ctx.lineWidth = 1;
        ctx.strokeRect(x + 0.5, y + 0.5, opts.w, opts.h);
        chart.data.datasets.forEach((ds, i) => {
            const ry = y + 12 + i * 19.2;
            ctx.strokeStyle = ds.borderColor;
            ctx.lineWidth = 2.5;
            ctx.beginPath();
            ctx.moveTo(x + 7, ry);
            ctx.lineTo(x + 46, ry);
            ctx.stroke();
            ctx.fillStyle = "#111";
            ctx.font = "16px " + FONT;
            ctx.textAlign = "center";
            ctx.textBaseline = "middle";
            ctx.fillText(ds.label, x + 83, ry + 1);
        });
        ctx.restore();
    }
};

function makeChart(id, series, labels, p) {
    const datasets = series.map((pts, i) => ({
        label: labels[i],
        data: pts,
        borderColor: lineColors[i],
        borderWidth: 2.2,
        pointRadius: 0,
        tension: 0,
        fill: false,
        order: series.length - i,
        clip: 1
    }));

    return new Chart(document.getElementById(id), {
        type: "line",
        data: { datasets: datasets },
        options: {
            responsive: false,
            animation: false,
            events: [],
            layout: { padding: { left: p.padLeft, right: 20, top: p.padTop, bottom: 0 } },
            plugins: {
                legend: { display: false },
                tooltip: { enabled: false },
                frame: { title: p.title },
                legendBox: p.legend || { show: false }
            },
            scales: {
                x: {
                    type: "linear",
                    min: -180, max: 180,
                    ticks: {
                        stepSize: 10,
                        autoSkip: false,
                        maxRotation: 0,
                        display: p.xLabels,
                        padding: 6,
                        color: "#1a1a1a",
                        font: { size: 15, family: FONT },
                        callback: v => thetaTickLabels.includes(v) ? String(v) : ""
                    },
                    grid: {
                        color: c => thetaTickLabels.includes(c.tick.value) ? GRID_COLOR : "rgba(0,0,0,0)",
                        tickColor: AXIS_COLOR,
                        tickLength: 5
                    },
                    border: { display: true, color: AXIS_COLOR, dash: [7, 5] },
                    title: {
                        display: p.xLabels,
                        text: "Theta [degree]",
                        color: "#1a1a1a",
                        font: { size: 15, weight: "bold", family: FONT },
                        padding: { top: 0, bottom: 2 }
                    },
                    afterFit: s => { s.height = p.xLabels ? 48 : 12; }
                },
                y: {
                    type: "linear",
                    min: -30, max: 4,
                    ticks: {
                        stepSize: 1,
                        autoSkip: false,
                        display: p.yLabels,
                        padding: 4,
                        color: "#1a1a1a",
                        font: { size: 15, family: FONT },
                        callback: v => gainTickLabels.includes(v) ? String(v) : ""
                    },
                    grid: {
                        color: c => gainTickLabels.includes(c.tick.value) ? GRID_COLOR : "rgba(0,0,0,0)",
                        tickColor: AXIS_COLOR,
                        tickLength: 5
                    },
                    border: { display: true, color: AXIS_COLOR, dash: [7, 5] },
                    title: {
                        display: p.yLabels,
                        text: "|S21| [dB]",
                        color: "#1a1a1a",
                        font: { size: 15, weight: "bold", family: FONT },
                        padding: { top: 3, bottom: 0 }
                    },
                    afterFit: s => { s.width = p.yLabels ? 63 : 10; }
                }
            }
        },
        plugins: [framePlugin, legendBoxPlugin]
    });
}

makeChart("p1", [e23, e25, e3, e4, e5, e6, e7], freqLow,
    { padLeft: 0, padTop: 30, title: panelTitles[0], xLabels: false, yLabels: true,
      legend: { show: true, dx: 9, dy: 13, w: 113, h: 137 } });
makeChart("p2", [d23, d25, d3, d4, d5, d6, d7], freqLow,
    { padLeft: 10, padTop: 30, title: panelTitles[1], xLabels: false, yLabels: false });
makeChart("p3", [h23, h25, h3, h4, h5, h6, h7], freqLow,
    { padLeft: 10, padTop: 30, title: panelTitles[2], xLabels: false, yLabels: false });
makeChart("p4", [e8, e9, e10, e11, e12, e13, e14], freqHigh,
    { padLeft: 0, padTop: 10, title: "", xLabels: true, yLabels: true,
      legend: { show: true, dx: 263, dy: 13, w: 117, h: 138 } });
makeChart("p5", [d8, d9, d10, d11, d12, d13, d14], freqHigh,
    { padLeft: 10, padTop: 10, title: "", xLabels: true, yLabels: false });
makeChart("p6", [h8, h9, h10, h11, h12, h13, h14], freqHigh,
    { padLeft: 10, padTop: 10, title: "", xLabels: true, yLabels: false });
</script>
</body>
</html>
